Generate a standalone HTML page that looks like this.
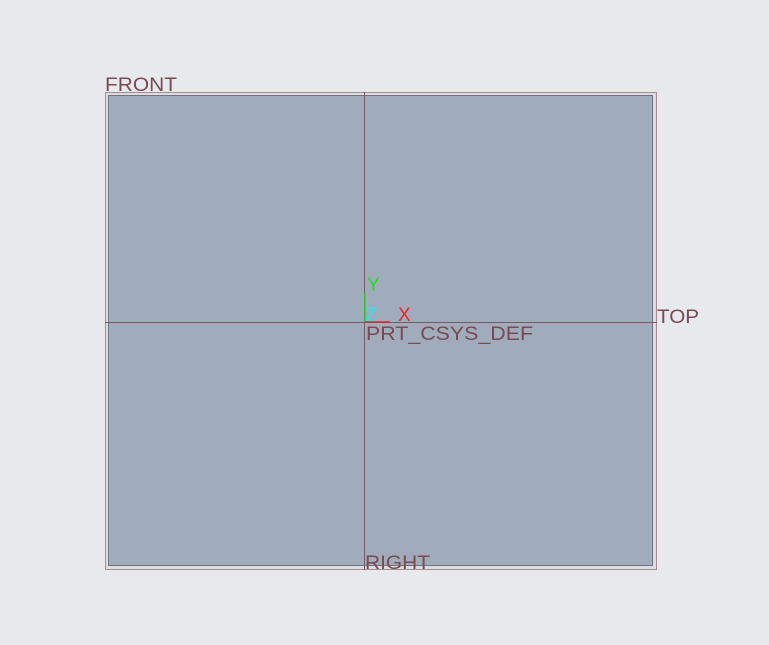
<!DOCTYPE html>
<html><head><meta charset="utf-8"><style>
html,body{margin:0;padding:0;background:#e8e9ed;}
svg{display:block;font-family:"Liberation Sans",sans-serif;}
</style></head><body>
<svg width="769" height="645" viewBox="0 0 769 645">
<rect x="0" y="0" width="769" height="645" fill="#e8e9ed"/>
<rect x="105.5" y="92.5" width="551" height="477" fill="#dcdde1" stroke="#a88a90" stroke-width="1"/>
<rect x="108.5" y="95.5" width="544" height="470" fill="#a0acbb" stroke="#6e7580" stroke-width="1"/>
<line x1="364.5" y1="92" x2="364.5" y2="570" stroke="#7a5a62" stroke-width="1"/>
<line x1="105" y1="322.5" x2="657" y2="322.5" stroke="#7a5a62" stroke-width="1"/>
<text x="105" y="91" font-size="19" textLength="72" lengthAdjust="spacingAndGlyphs" fill="#7a4a52">FRONT</text>
<text x="657" y="323" font-size="19" textLength="42" lengthAdjust="spacingAndGlyphs" fill="#7a4a52">TOP</text>
<text x="365" y="569" font-size="19" textLength="65" lengthAdjust="spacingAndGlyphs" fill="#7a4a52">RIGHT</text>
<text x="366" y="340" font-size="19" textLength="167" lengthAdjust="spacingAndGlyphs" fill="#7a4a52">PRT_CSYS_DEF</text>
<text x="367" y="291" font-size="19" fill="#22dd22">Y</text>
<text x="398" y="321" font-size="19" fill="#ee2222">X</text>
<text x="365" y="321" font-size="19" fill="#22e8f0">Z</text>
<line x1="365" y1="322" x2="365" y2="293" stroke="#22dd22" stroke-width="1.5"/>
<line x1="365" y1="322" x2="390" y2="322" stroke="#ee2222" stroke-width="1.5"/>
</svg>
</body></html>
